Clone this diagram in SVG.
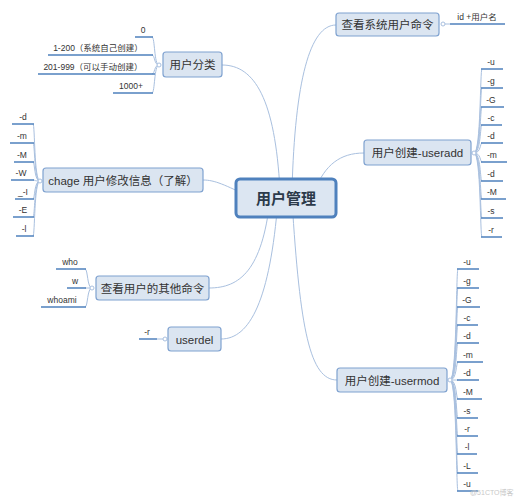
<svg xmlns="http://www.w3.org/2000/svg" width="517" height="500" viewBox="0 0 517 500">
<style>
.node rect{fill:#dbe5f1;stroke:#7fa2d0;stroke-width:1.2}
.central rect{fill:#dce6f2;stroke:#4f81bd;stroke-width:3}
.nt{font-family:"Liberation Sans","Noto Sans CJK SC",sans-serif;font-size:11.5px;fill:#333;text-anchor:middle}
.ct{font-family:"Liberation Sans","Noto Sans CJK SC",sans-serif;font-size:15px;font-weight:bold;fill:#2b3a4a;text-anchor:middle}
.lt{font-family:"Liberation Sans","Noto Sans CJK SC",sans-serif;font-size:8.5px;fill:#333;text-anchor:middle}
.conn{fill:none;stroke:#a9c0df;stroke-width:1}
.ul{fill:none;stroke:#4f81bd;stroke-width:1.5}
.dot{fill:#fff;stroke:#a9c0df;stroke-width:1}
.wm{font-family:"Liberation Sans","Noto Sans CJK SC",sans-serif;font-size:7px;fill:#c8c8c8}
</style>
<rect width="517" height="500" fill="#fff"/>
<g id="connectors">
<path class="conn" d="M280,190 C275,100 255,65 222,65"/>
<path class="conn" d="M292,190 C295,80 310,25 336,25"/>
<path class="conn" d="M315,190 C325,165 340,153 364,153"/>
<path class="conn" d="M250,197 C225,185 215,180 203,180"/>
<path class="conn" d="M270,200 C262,270 240,288 209,288"/>
<path class="conn" d="M278,200 C270,300 250,339 221,339"/>
<path class="conn" d="M292,200 C300,330 310,380 337,380"/>
<!-- 用户分类 leaves -->
<path class="conn" d="M159,65 C154,65 155,37 152,37"/>
<path class="conn" d="M159,65 C154,65 155,55 152,55"/>
<path class="conn" d="M159,65 C154,65 155,74 152,74"/>
<path class="conn" d="M159,65 C154,65 155,93 152,93"/>
<path class="ul" d="M135,37 H153 M48,55 H153 M38,74 H155 M113,93 H153"/>
<!-- id leaf -->
<path class="conn" d="M443,24 H450"/>
<path class="ul" d="M450,24 H505"/>
<!-- useradd leaves -->
<path class="conn" d="M474,153 C481,153 480,69 482,69 M474,153 C481,153 480,88 482,88 M474,153 C481,153 480,107 482,107 M474,153 C481,153 480,125 482,125 M474,153 C481,153 480,143 482,143 M474,153 C481,153 480,162 482,162 M474,153 C481,153 480,181 482,181 M474,153 C481,153 480,199 482,199 M474,153 C481,153 480,218 482,218 M474,153 C481,153 480,237 482,237"/>
<path class="ul" d="M481,69 H503 M481,88 H503 M481,107 H504 M481,125 H502 M481,143 H503 M481,162 H507 M481,181 H503 M481,199 H506 M481,218 H503 M481,237 H502"/>
<!-- usermod leaves -->
<path class="conn" d="M450,380 C457,380 456,269 458,269 M450,380 C457,380 456,288 458,288 M450,380 C457,380 456,307 458,307 M450,380 C457,380 456,325 458,325 M450,380 C457,380 456,343 458,343 M450,380 C457,380 456,362 458,362 M450,380 C457,380 456,380 458,380 M450,380 C457,380 456,399 458,399 M450,380 C457,380 456,418 458,418 M450,380 C457,380 456,436 458,436 M450,380 C457,380 456,454 458,454 M450,380 C457,380 456,473 458,473 M450,380 C457,380 456,491 458,491"/>
<path class="ul" d="M457,269 H479 M457,288 H479 M457,307 H480 M457,325 H478 M457,343 H479 M457,362 H483 M457,380 H479 M457,399 H482 M457,418 H478 M457,436 H478 M457,454 H477 M457,473 H478 M457,491 H478"/>
<!-- chage leaves -->
<path class="conn" d="M40,181 C34,181 35,124 33,124 M40,181 C34,181 35,143 33,143 M40,181 C34,181 35,162 33,162 M40,181 C34,181 35,180 33,180 M40,181 C34,181 35,199 33,199 M40,181 C34,181 35,217 33,217 M40,181 C34,181 35,236 33,236"/>
<path class="ul" d="M12,124 H34 M10,143 H34 M14,162 H34 M11,180 H34 M15,199 H34 M13,217 H34 M16,236 H34"/>
<!-- other commands leaves -->
<path class="conn" d="M92,288 C87,288 88,269 85,269 M92,288 H85 M92,288 C87,288 88,307 85,307"/>
<path class="ul" d="M56,269 H86 M67,288 H86 M41,307 H86"/>
<!-- userdel leaf -->
<path class="conn" d="M165,339 H157"/>
<path class="ul" d="M139,339 H157"/>
<circle class="dot" cx="159" cy="65" r="2"/>
<circle class="dot" cx="443" cy="24" r="2"/>
<circle class="dot" cx="474" cy="153" r="2"/>
<circle class="dot" cx="450" cy="380" r="2"/>
<circle class="dot" cx="40" cy="181" r="2"/>
<circle class="dot" cx="92" cy="288" r="2"/>
<circle class="dot" cx="165" cy="339" r="2"/>
</g>
<g id="central" class="central"><rect x="236" y="179" width="100" height="38" rx="4"/><text class="ct" x="286" y="204">用户管理</text></g>
<g id="n-fenlei" class="node"><rect x="163" y="52" width="59" height="25" rx="3"/><text class="nt" x="192.5" y="69">用户分类</text></g>
<g id="n-chakan" class="node"><rect x="336" y="13" width="103" height="23" rx="3"/><text class="nt" x="387.5" y="29">查看系统用户命令</text></g>
<g id="n-useradd" class="node"><rect x="364" y="140" width="107" height="25" rx="3"/><text class="nt" x="417.5" y="157">用户创建-useradd</text></g>
<g id="n-chage" class="node"><rect x="43" y="168" width="160" height="24" rx="3"/><text class="nt" x="123" y="184.5">chage 用户修改信息（了解）</text></g>
<g id="n-other" class="node"><rect x="96" y="276" width="113" height="24" rx="3"/><text class="nt" x="152.5" y="292.5">查看用户的其他命令</text></g>
<g id="n-userdel" class="node"><rect x="168" y="327" width="53" height="24" rx="3"/><text class="nt" x="194.5" y="343.5">userdel</text></g>
<g id="n-usermod" class="node"><rect x="337" y="368" width="110" height="24" rx="3"/><text class="nt" x="392" y="384.5">用户创建-usermod</text></g>
<g id="leaves-fenlei">
<text class="lt" x="143" y="33">0</text>
<text class="lt" x="98" y="51">1-200（系统自己创建）</text>
<text class="lt" x="93" y="70">201-999（可以手动创建）</text>
<text class="lt" x="131" y="89">1000+</text>
</g>
<g id="leaf-id"><text class="lt" x="477" y="20">id +用户名</text></g>
<g id="leaves-useradd">
<text class="lt" x="491" y="65">-u</text><text class="lt" x="491" y="84">-g</text><text class="lt" x="491" y="103">-G</text><text class="lt" x="491" y="121">-c</text><text class="lt" x="491" y="139">-d</text><text class="lt" x="492" y="158">-m</text><text class="lt" x="491" y="177">-d</text><text class="lt" x="492" y="195">-M</text><text class="lt" x="491" y="214">-s</text><text class="lt" x="491" y="233">-r</text>
</g>
<g id="leaves-usermod">
<text class="lt" x="467" y="265">-u</text><text class="lt" x="467" y="284">-g</text><text class="lt" x="467" y="303">-G</text><text class="lt" x="467" y="321">-c</text><text class="lt" x="467" y="339">-d</text><text class="lt" x="468" y="358">-m</text><text class="lt" x="467" y="376">-d</text><text class="lt" x="468" y="395">-M</text><text class="lt" x="467" y="414">-s</text><text class="lt" x="467" y="432">-r</text><text class="lt" x="467" y="450">-l</text><text class="lt" x="467" y="469">-L</text><text class="lt" x="467" y="487">-u</text>
</g>
<g id="leaves-chage">
<text class="lt" x="23" y="120">-d</text><text class="lt" x="22" y="139">-m</text><text class="lt" x="22" y="158">-M</text><text class="lt" x="21" y="176">-W</text><text class="lt" x="23" y="195">_-I</text><text class="lt" x="23" y="213">-E</text><text class="lt" x="24" y="232">-l</text>
</g>
<g id="leaves-other">
<text class="lt" x="70" y="265">who</text><text class="lt" x="75" y="284">w</text><text class="lt" x="62" y="303">whoami</text>
</g>
<g id="leaf-userdel"><text class="lt" x="147" y="335">-r</text></g>
<text class="wm" x="470" y="495">@51CTO博客</text>
</svg>
